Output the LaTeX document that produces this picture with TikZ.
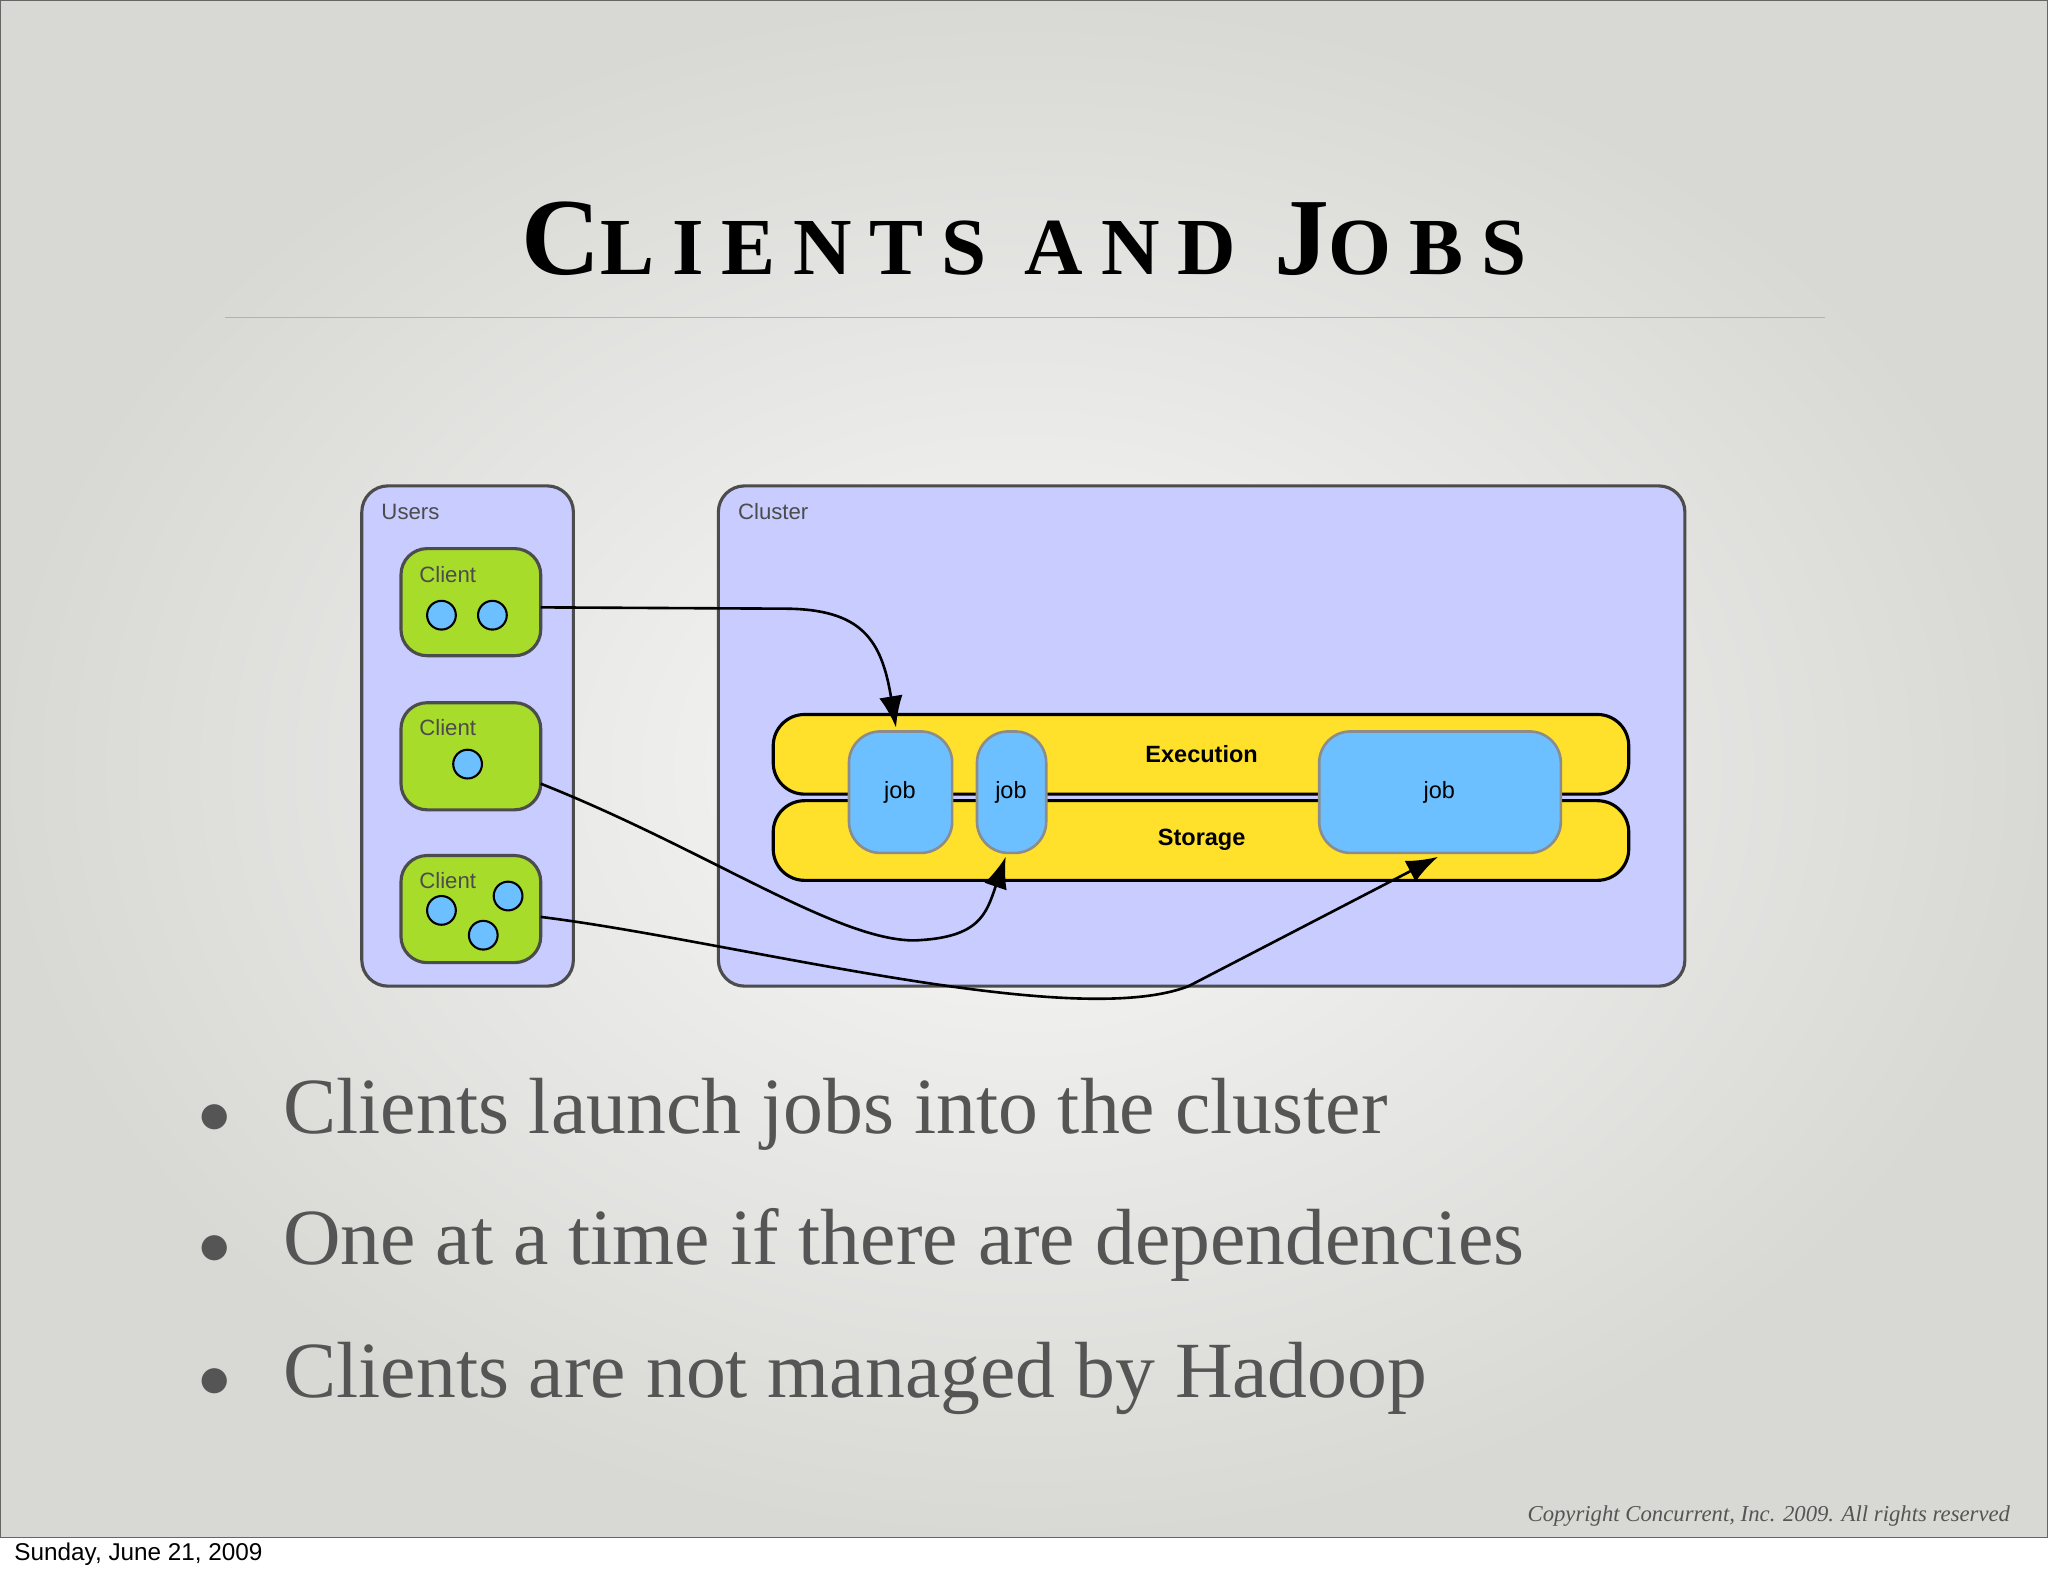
\documentclass[tikz,border=0pt]{standalone}
\usepackage{fontspec}
\setmainfont{Liberation Serif}
\setsansfont{Liberation Sans}
\newfontfamily\titlefont[LetterSpace=22]{Liberation Serif}
\usetikzlibrary{arrows.meta}
\definecolor{bgc}{HTML}{E2E2DE}
\definecolor{bluebox}{HTML}{C8CCFF}
\definecolor{greenc}{HTML}{A8DC2A}
\definecolor{jobc}{HTML}{6CC0FF}
\definecolor{yel}{HTML}{FFE02A}
\definecolor{txt}{HTML}{555555}
\tikzset{
 grp/.style={draw=black!70,line width=1.2pt,fill=bluebox,rounded corners=10pt},
 cli/.style={draw=black!70,line width=1.2pt,fill=greenc,rounded corners=10pt},
 bar/.style={draw=black,line width=1.2pt,fill=yel,rounded corners=12pt},
 jobb/.style={draw=black!45,line width=1pt,fill=jobc,rounded corners=12pt},
 dot/.style={circle,draw=black,line width=0.8pt,fill=jobc,minimum size=11pt,inner sep=0pt},
 lab/.style={font=\sffamily\fontsize{8.5}{9}\selectfont,text=black!70,anchor=west},
 arr/.style={-{Latex[length=12pt,width=9pt]},line width=1pt},
 bul/.style={font=\fontsize{30.5}{32}\selectfont,text=txt,anchor=west}
}
\begin{document}
\begin{tikzpicture}[x=0.5pt,y=-0.5pt]
\useasboundingbox (0,0) rectangle (1568,1207);
\shade[inner color=white!95!gray,outer color=bgc!90!gray] (0,0) rectangle (1568,1177);
\draw[black!60,line width=0.6pt] (0,0) rectangle (1568,1177);
\node[font=\titlefont\bfseries] (title) at (784,183) {{\fontsize{42}{44}\selectfont C}{\fontsize{31}{32}\selectfont LIENTS AND }{\fontsize{42}{44}\selectfont J}{\fontsize{31}{32}\selectfont OBS}};
\draw[black!30,line width=0.6pt] (172,243) -- (1397,243);
% groups
\draw[grp] (277,372) rectangle (439,755);
\node[lab] (users) at (285,392) {Users};
\draw[grp] (550,372) rectangle (1290,755);
\node[lab] (cluster) at (558,392) {Cluster};
% clients
\draw[cli] (307,420) rectangle (414,502);
\node[lab] (c1) at (314,440) {Client};
\node[dot] (d11) at (338,471) {}; \node[dot] (d12) at (377,471) {};
\draw[cli] (307,538) rectangle (414,620);
\node[lab] (c2) at (314,557) {Client};
\node[dot] (d21) at (358,585) {};
\draw[cli] (307,655) rectangle (414,737);
\node[lab] (c3) at (314,674) {Client};
\node[dot] (d31) at (338,697) {}; \node[dot] (d32) at (389,686) {}; \node[dot] (d33) at (370,716) {};
\coordinate (o1) at (414,465); \coordinate (o2) at (414,600); \coordinate (o3) at (414,702);
% bars
\draw[bar] (592,547) rectangle (1247,608);
\draw[bar] (592,613) rectangle (1247,674);
\node[font=\sffamily\bfseries\fontsize{9}{10}\selectfont] (ex) at (920,577) {Execution};
\node[font=\sffamily\bfseries\fontsize{9}{10}\selectfont] (st) at (920,643) {Storage};
% jobs
\draw[jobb] (650,560) rectangle (729,653);
\node[font=\sffamily\fontsize{9}{10}\selectfont] (j1) at (689,607) {job};
\draw[jobb] (748,560) rectangle (801,653);
\node[font=\sffamily\fontsize{9}{10}\selectfont] (j2) at (774,607) {job};
\draw[jobb] (1010,560) rectangle (1195,653);
\node[font=\sffamily\fontsize{9}{10}\selectfont] (j3) at (1102,607) {job};
\coordinate (t1) at (686,557); \coordinate (t2) at (770,656); \coordinate (t3) at (1101,656);
% arrows
\draw[arr] (o1) -- (600,466) .. controls (660,466) and (675,490) .. (t1);
\draw[arr] (o2) .. controls (540,650) and (640,720) .. (700,720) .. controls (750,718) and (755,700) .. (t2);
\draw[arr] (o3) .. controls (560,720) and (820,790) .. (910,755) -- (t3);
% bullets
\node[bul] (b1) at (145,853) {$\bullet$\hspace{20pt}Clients launch jobs into the cluster};
\node[bul] (b2) at (145,953) {$\bullet$\hspace{20pt}One at a time if there are dependencies};
\node[bul] (b3) at (145,1055) {$\bullet$\hspace{20pt}Clients are not managed by Hadoop};
\node[font=\itshape\fontsize{8.7}{9}\selectfont,text=txt,anchor=east] (copy) at (1546,1161) {Copyright Concurrent, Inc. 2009. All rights reserved};
\node[font=\sffamily\fontsize{9.3}{10}\selectfont,anchor=west] (date) at (4,1190) {Sunday, June 21, 2009};
\end{tikzpicture}
\end{document}
